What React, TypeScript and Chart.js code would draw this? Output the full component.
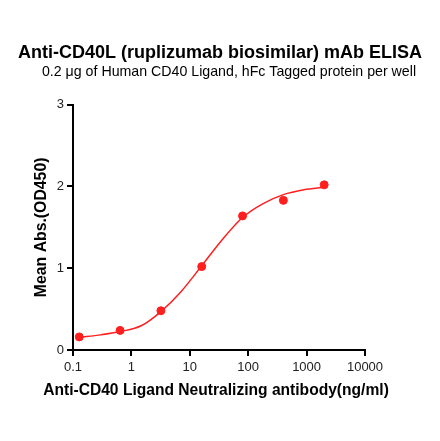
import { useEffect, useRef } from "react";
import { Chart, registerables } from "chart.js";

Chart.register(...registerables);

const FONT = "'Liberation Sans', Arial, sans-serif";

// measured points (5-fold dilution series)
const concentrations = [0.128, 0.64, 3.2, 16, 80, 400, 2000];
const absorbance = [0.16, 0.24, 0.48, 1.02, 1.64, 1.83, 2.02];

// fitted curve
const curveX = [0.128, 0.3, 0.64, 1.5, 3.2, 7, 16, 35, 80, 180, 400, 900, 2000];
const curveY = [0.155, 0.185, 0.225, 0.3, 0.47, 0.71, 1.03, 1.34, 1.62, 1.79, 1.9, 1.96, 1.99];

const xTicks = [0.1, 1, 10, 100, 1000, 10000];
const yTicks = [0, 1, 2, 3];

const titleText = "Anti-CD40L (ruplizumab biosimilar) mAb ELISA";
const subtitleText = "0.2 μg of Human CD40 Ligand, hFc Tagged protein per well";
const xTitle = "Anti-CD40 Ligand Neutralizing antibody(ng/ml)";
const yTitle = "Mean Abs.(OD450)";

const RED = "#ff1f1f";

// title, subtitle and x title are wider than the plot area, so draw them here
// (chart.js squeezes a scale title to the axis length)
const textPlugin = {
  id: "texts",
  afterDraw(chart: Chart) {
    const ctx = chart.ctx;
    ctx.save();
    ctx.fillStyle = "#000";
    ctx.textAlign = "center";
    ctx.textBaseline = "alphabetic";
    ctx.font = `bold 18px ${FONT}`;
    ctx.fillText(titleText, 220, 58.3);
    ctx.font = `14.2px ${FONT}`;
    ctx.fillText(subtitleText, 229, 75.7);
    ctx.font = `bold 15.6px ${FONT}`;
    ctx.fillText(xTitle, 216, 394.5);
    ctx.restore();
  },
};

const App = () => {
  const chartRef = useRef<HTMLCanvasElement | null>(null);
  const chartInstance = useRef<Chart | null>(null);

  useEffect(() => {
    if (!chartRef.current) return;
    if (chartInstance.current) chartInstance.current.destroy();

    const ctx = chartRef.current.getContext("2d");
    if (!ctx) return;

    chartInstance.current = new Chart(ctx, {
      type: "scatter",
      data: {
        datasets: [
          {
            label: "data",
            data: concentrations.map((x, i) => ({ x, y: absorbance[i] })),
            backgroundColor: RED,
            borderColor: RED,
            pointRadius: 4,
            pointHoverRadius: 4,
            showLine: false,
          },
          {
            label: "fit",
            data: curveX.map((x, i) => ({ x, y: curveY[i] })),
            borderColor: RED,
            borderWidth: 1.5,
            pointRadius: 0,
            showLine: true,
            cubicInterpolationMode: "monotone",
          },
        ],
      },
      options: {
        animation: false,
        responsive: true,
        maintainAspectRatio: false,
        layout: { padding: { left: 0, right: 75, top: 104.7, bottom: 0 } },
        plugins: {
          legend: { display: false },
          tooltip: { enabled: false },
          title: { display: false },
        },
        scales: {
          x: {
            type: "logarithmic",
            min: 0.1,
            max: 10000,
            afterBuildTicks: (scale: any) => {
              scale.ticks = xTicks.map((v) => ({ value: v }));
            },
            afterFit: (scale: any) => {
              scale.height = 91;
            },
            ticks: {
              color: "#222",
              font: { family: FONT, size: 13 },
              padding: 4,
              maxRotation: 0,
              autoSkip: false,
              callback: (v: any) => String(v),
            },
            grid: {
              drawOnChartArea: false,
              drawTicks: true,
              tickLength: 6,
              color: "#000",
              lineWidth: 2,
            },
            border: { display: true, color: "#000", width: 2 },
            title: { display: false },
          },
          y: {
            min: 0,
            max: 3,
            afterBuildTicks: (scale: any) => {
              scale.ticks = yTicks.map((v) => ({ value: v }));
            },
            afterFit: (scale: any) => {
              scale.width = 73;
            },
            ticks: {
              color: "#222",
              font: { family: FONT, size: 13 },
              padding: 3,
            },
            grid: {
              drawOnChartArea: false,
              drawTicks: true,
              tickLength: 6,
              color: "#000",
              lineWidth: 2,
            },
            border: { display: true, color: "#000", width: 2 },
            title: {
              display: true,
              text: yTitle,
              color: "#000",
              font: { family: FONT, size: 15.8, weight: "bold" },
              padding: { top: 32.2, bottom: 0 },
            },
          },
        },
      },
      plugins: [textPlugin],
    });

    return () => {
      if (chartInstance.current) {
        chartInstance.current.destroy();
        chartInstance.current = null;
      }
    };
  }, []);

  return (
    <div style={{ position: "fixed", left: 0, top: 0, width: 440, height: 441 }}>
      <canvas ref={chartRef} />
    </div>
  );
};

export default App;
